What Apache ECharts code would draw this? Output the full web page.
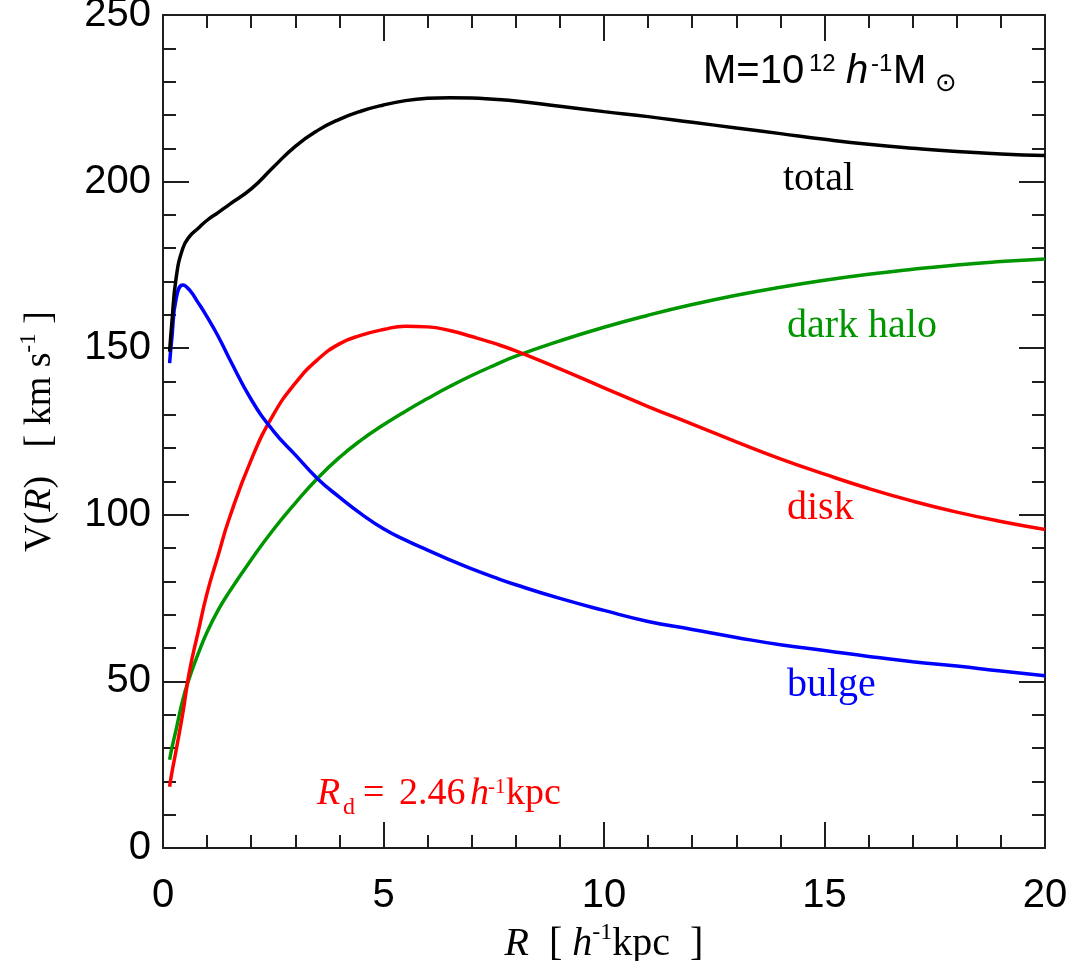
<!DOCTYPE html>
<html><head><meta charset="utf-8">
<script src="https://cdn.jsdelivr.net/npm/echarts@6/dist/echarts.min.js"></script>
<style>html,body{margin:0;padding:0;background:#fff}#c{width:1081px;height:961px}</style>
</head><body><div id="c"></div>
<script>
// Radius R [h^-1 kpc]
const R = [0.15, 0.2, 0.3, 0.45, 0.6, 0.8, 1.0, 1.25, 1.5, 2, 2.5, 3, 3.5, 4, 4.5, 5, 5.5, 6, 6.5, 7, 7.5, 8, 9, 10, 11, 12, 13, 14, 15, 16, 17, 18, 19, 20];
// Circular velocity components [km/s]
const vTotal = [149, 157.5, 171.3, 180, 183.5, 186, 188.4, 190.7, 193.1, 197.8, 204.3, 210.6, 215.3, 218.7, 221.2, 223, 224.3, 225, 225.2, 225.1, 224.7, 224.2, 222.6, 221, 219.5, 217.8, 216.1, 214.4, 212.7, 211.2, 210, 209, 208.3, 207.8];
const vHalo = [26.5, 29.9, 35.7, 44.5, 51.1, 58.4, 64.8, 71.4, 76.8, 86.5, 95.5, 103.5, 110.9, 117.2, 122.5, 127, 131.1, 134.9, 138.5, 141.8, 144.8, 147.6, 152.2, 156.3, 159.9, 163.1, 165.9, 168.3, 170.4, 172.2, 173.7, 175, 176, 176.8];
const vDisk = [18.4, 22.5, 29.5, 40.5, 53, 65, 76.5, 87.8, 98.8, 116.5, 130, 139.5, 146.5, 151.3, 153.9, 155.6, 156.6, 156.4, 155.3, 153.5, 151.5, 149.2, 143.8, 138.1, 132.5, 127.2, 121.9, 116.8, 112.2, 107.9, 104.1, 100.8, 98, 95.6];
const vBulge = [145.5, 153, 165, 169, 167.5, 163.6, 159.4, 153.6, 147, 134.6, 125.2, 118, 110.9, 105.3, 100.2, 95.8, 92.4, 89.4, 86.5, 83.8, 81.3, 79, 74.9, 71.3, 68, 65.6, 63.2, 61, 59.3, 57.5, 55.9, 54.6, 53.1, 51.7];
const seriesNames = ['total', 'dark halo', 'disk', 'bulge'];

const AX = '#1e1e1e';
const SANS = '"Liberation Sans", Arial, Helvetica, sans-serif';
const SERIF = '"Liberation Serif", "Times New Roman", serif';

function xAx(pos, lbl) {
  return {
    type: 'value', position: pos, min: 0, max: 20, interval: 5,
    axisLine: { show: true, onZero: false, lineStyle: { color: AX, width: 2 } },
    axisTick: { show: true, inside: true, length: 26, lineStyle: { color: AX, width: 2 } },
    minorTick: { show: true, splitNumber: 5, length: 13, lineStyle: { color: AX, width: 2 } },
    splitLine: { show: false }, minorSplitLine: { show: false },
    axisLabel: { show: lbl, fontSize: 40, fontFamily: SANS, color: '#000', margin: 28 }
  };
}
function yAx(pos, lbl) {
  return {
    type: 'value', position: pos, min: 0, max: 250, interval: 50,
    axisLine: { show: true, onZero: false, lineStyle: { color: AX, width: 2 } },
    axisTick: { show: true, inside: true, length: 26, lineStyle: { color: AX, width: 2 } },
    minorTick: { show: true, splitNumber: 5, length: 13, lineStyle: { color: AX, width: 2 } },
    splitLine: { show: false }, minorSplitLine: { show: false },
    axisLabel: { show: lbl, fontSize: 40, fontFamily: SANS, color: '#000', margin: 12 }
  };
}

const xBottom = xAx('bottom', true);
xBottom.name = '{i|R}  [ {i|h}{s|-1}kpc  ]';
xBottom.nameLocation = 'middle';
xBottom.nameGap = 64;
xBottom.nameTextStyle = {
  fontFamily: SERIF, fontSize: 40, color: '#000', lineHeight: 48,
  rich: {
    i: { fontFamily: SERIF, fontSize: 40, fontStyle: 'italic', color: '#000', lineHeight: 48 },
    s: { fontFamily: SERIF, fontSize: 24, color: '#000', lineHeight: 30, verticalAlign: 'top' }
  }
};
const yLeft = yAx('left', true);
yLeft.name = 'V({i|R})   [ km s{s|-1} ]';
yLeft.nameLocation = 'middle';
yLeft.nameRotate = 90;
yLeft.nameGap = 100;
yLeft.nameTextStyle = {
  fontFamily: SERIF, fontSize: 38, color: '#000', lineHeight: 46,
  rich: {
    i: { fontFamily: SERIF, fontSize: 38, fontStyle: 'italic', color: '#000', lineHeight: 46 },
    s: { fontFamily: SERIF, fontSize: 23, color: '#000', lineHeight: 30, verticalAlign: 'top' }
  }
};

function mk(name, vals, color, z) {
  return {
    name: name, type: 'line', xAxisIndex: 0, yAxisIndex: 0,
    data: R.map((r, i) => [r, vals[i]]),
    showSymbol: false, symbol: 'none', smooth: 0.5, z: z,
    lineStyle: { color: color, width: 3.5 }, itemStyle: { color: color },
    emphasis: { disabled: true }
  };
}

function txt(t, x, y, font, fill) {
  return { type: 'text', x: x, y: y, silent: true, style: { text: t, font: font, fill: fill, align: 'left', verticalAlign: 'middle' } };
}

const option = {
  animation: false,
  backgroundColor: '#fff',
  grid: { left: 163, right: 36, top: 15, bottom: 113, outerBoundsMode: 'none', containLabel: false },
  xAxis: [xBottom, xAx('top', false)],
  yAxis: [yLeft, yAx('right', false)],
  series: [
    mk(seriesNames[1], vHalo, '#009600', 3),
    mk(seriesNames[2], vDisk, '#ff0000', 3),
    mk(seriesNames[3], vBulge, '#0000ff', 3),
    mk(seriesNames[0], vTotal, '#000000', 4)
  ],
  graphic: [
    txt('M=10', 703, 72, '40px ' + SANS, '#000'),
    txt('12', 809, 64, '24px ' + SANS, '#000'),
    txt('h', 846, 72, 'italic 40px ' + SANS, '#000'),
    txt('-1', 871, 64, '24px ' + SANS, '#000'),
    txt('M', 893, 72, '40px ' + SANS, '#000'),
    txt('\u2299', 935, 84, '26px "DejaVu Sans", sans-serif', '#000'),
    txt('total', 783, 179.5, '40px ' + SERIF, '#000'),
    txt('dark halo', 787, 326.5, '40px ' + SERIF, '#009600'),
    txt('disk', 787, 508.5, '40px ' + SERIF, '#ff0000'),
    txt('bulge', 787, 685.5, '40px ' + SERIF, '#0000ff'),
    txt('R', 317, 794, 'italic 38px ' + SERIF, '#ff0000'),
    txt('d', 343, 808, '24px ' + SERIF, '#ff0000'),
    txt('=', 363, 794, '38px ' + SERIF, '#ff0000'),
    txt('2.46', 399, 794, '38px ' + SERIF, '#ff0000'),
    txt('h', 470, 794, 'italic 38px ' + SERIF, '#ff0000'),
    txt('-1', 488, 787, '21px ' + SERIF, '#ff0000'),
    txt('kpc', 506, 794, '38px ' + SERIF, '#ff0000')
  ]
};
const chart = echarts.init(document.getElementById('c'), null, { renderer: 'canvas' });
chart.setOption(option);
</script></body></html>
